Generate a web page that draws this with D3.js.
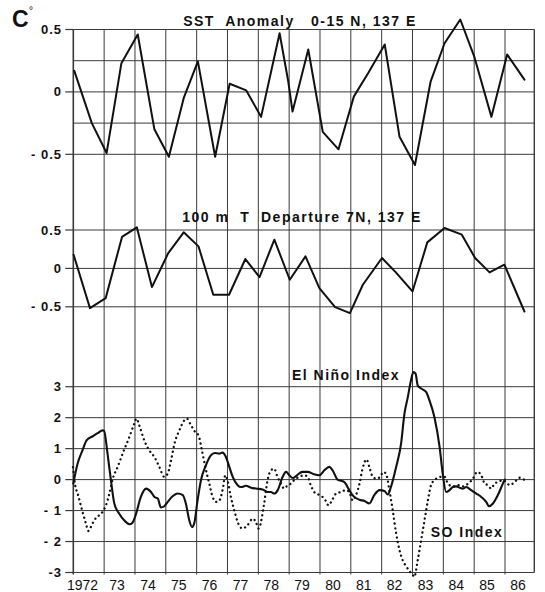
<!DOCTYPE html>
<html>
<head>
<meta charset="utf-8">
<script src="https://cdn.jsdelivr.net/npm/d3@7"></script>
<style>
  body { margin: 0; background: #fff; }
  svg { display: block; }
  text { font-family: "Liberation Sans", Arial, Helvetica, sans-serif; fill: #111; }
</style>
</head>
<body>
<svg id="chart" width="545" height="592"></svg>
<script>
// ---------- DATA ----------
const gridYears = [1972,1973,1974,1975,1976,1977,1978,1979,1980,1981,1982,1983,1984,1985,1986];
const yearLabels = ["1972","73","74","75","76","77","78","79","80","81","82","83","84","85","86"];

const topTicks = [0.5, 0, -0.5];
const topTickLabels = ["0.5", "0", "- 0.5"];
const topGrid = [0.5, 0.25, 0, -0.25, -0.5];
const midTicks = [0.5, 0, -0.5];
const midTickLabels = ["0.5", "0", "- 0.5"];
const botTicks = [3, 2, 1, 0, -1, -2, -3];
const botTickLabels = ["3", "2", "1", "0", "- 1", "- 2", "-3"];

// SST Anomaly 0-15N, 137E
const sstYears = [1972.03,1972.6,1973.08,1973.56,1974.09,1974.63,1975.1,1975.58,1976.04,1976.6,1977.07,1977.61,1978.09,1978.69,1978.97,1979.11,1979.62,1980.09,1980.6,1981.1,1981.56,1982.1,1982.58,1983.08,1983.59,1984.04,1984.55,1985.0,1985.56,1986.07,1986.63];
const sstValues = [0.17,-0.25,-0.49,0.23,0.46,-0.30,-0.52,-0.05,0.245,-0.52,0.065,0.012,-0.20,0.47,0.085,-0.157,0.34,-0.32,-0.46,-0.036,0.15,0.38,-0.36,-0.586,0.085,0.39,0.58,0.285,-0.2,0.30,0.098];

// 100 m T Departure 7N, 137E
const depYears = [1972.01,1972.54,1973.05,1973.58,1974.06,1974.55,1975.08,1975.58,1976.06,1976.54,1977.05,1977.58,1978.04,1978.52,1979.02,1979.53,1979.98,1980.49,1980.97,1981.39,1982.01,1982.46,1983.0,1983.48,1984.04,1984.6,1985.03,1985.5,1985.98,1986.63];
const depValues = [0.178,-0.517,-0.387,0.41,0.535,-0.243,0.2,0.47,0.287,-0.343,-0.343,0.122,-0.113,0.374,-0.148,0.157,-0.257,-0.504,-0.583,-0.213,0.135,-0.052,-0.3,0.339,0.526,0.439,0.135,-0.052,0.048,-0.561];

// El Nino Index
const ninoYears = [1972.0,1972.14,1972.3,1972.43,1972.63,1972.79,1972.95,1973.0,1973.11,1973.22,1973.33,1973.49,1973.65,1973.82,1973.92,1974.03,1974.19,1974.36,1974.52,1974.63,1974.74,1974.84,1974.95,1975.06,1975.22,1975.38,1975.55,1975.65,1975.76,1975.85,1975.92,1976.03,1976.14,1976.3,1976.46,1976.59,1976.73,1976.84,1976.95,1977.06,1977.17,1977.33,1977.44,1977.6,1977.76,1977.92,1978.14,1978.3,1978.41,1978.52,1978.63,1978.79,1978.9,1979.0,1979.12,1979.25,1979.43,1979.6,1979.81,1979.98,1980.14,1980.3,1980.41,1980.57,1980.79,1980.95,1981.06,1981.28,1981.44,1981.6,1981.76,1981.93,1982.09,1982.2,1982.3,1982.47,1982.63,1982.74,1982.85,1982.95,1983.03,1983.1,1983.17,1983.28,1983.44,1983.55,1983.71,1983.88,1983.98,1984.09,1984.2,1984.31,1984.42,1984.53,1984.63,1984.74,1984.9,1985.07,1985.23,1985.39,1985.48,1985.61,1985.77,1985.93,1985.99];
const ninoValues = [-0.13,0.52,0.95,1.27,1.4,1.5,1.59,1.57,0.84,-0.02,-0.77,-1.1,-1.31,-1.44,-1.39,-1.12,-0.56,-0.29,-0.4,-0.56,-0.61,-0.9,-0.86,-0.72,-0.54,-0.45,-0.5,-0.77,-1.31,-1.53,-1.42,-0.67,-0.02,0.46,0.78,0.86,0.84,0.87,0.73,0.41,0.09,-0.18,-0.24,-0.2,-0.26,-0.29,-0.32,-0.4,-0.4,-0.45,-0.34,0.09,0.25,0.15,0.05,0.14,0.25,0.25,0.17,0.14,0.3,0.41,0.3,0.0,-0.08,-0.34,-0.51,-0.65,-0.69,-0.77,-0.5,-0.34,-0.37,-0.48,-0.24,0.41,1.16,2.13,2.67,3.2,3.47,3.42,3.04,2.94,2.83,2.56,2.02,1.05,0.19,-0.4,-0.34,-0.24,-0.22,-0.26,-0.29,-0.24,-0.34,-0.45,-0.56,-0.72,-0.86,-0.77,-0.5,-0.13,0.0];

// SO Index
const soiYears = [1971.99,1972.06,1972.14,1972.3,1972.41,1972.49,1972.57,1972.68,1972.84,1972.95,1973.06,1973.17,1973.28,1973.44,1973.6,1973.82,1973.98,1974.05,1974.14,1974.3,1974.46,1974.63,1974.79,1974.95,1975.06,1975.17,1975.28,1975.44,1975.6,1975.68,1975.82,1975.95,1976.06,1976.17,1976.28,1976.41,1976.52,1976.63,1976.74,1976.85,1976.93,1977.0,1977.11,1977.22,1977.35,1977.49,1977.65,1977.82,1977.92,1978.01,1978.12,1978.19,1978.3,1978.41,1978.52,1978.6,1978.71,1978.84,1978.95,1979.06,1979.16,1979.33,1979.49,1979.6,1979.7,1979.81,1979.98,1980.14,1980.28,1980.39,1980.52,1980.68,1980.84,1980.95,1981.06,1981.17,1981.28,1981.38,1981.51,1981.6,1981.71,1981.84,1981.95,1982.06,1982.16,1982.25,1982.36,1982.47,1982.58,1982.68,1982.81,1982.92,1982.98,1983.06,1983.17,1983.28,1983.39,1983.5,1983.6,1983.77,1983.93,1984.04,1984.15,1984.31,1984.47,1984.63,1984.8,1984.96,1985.1,1985.23,1985.34,1985.45,1985.55,1985.66,1985.77,1985.93,1986.04,1986.15,1986.31,1986.48,1986.64];
const soiValues = [0.4,-0.18,-0.45,-1.04,-1.42,-1.66,-1.53,-1.31,-1.15,-1.04,-0.83,-0.45,0.03,0.41,0.84,1.38,1.81,1.97,1.75,1.27,0.95,0.73,0.41,0.09,0.19,0.62,1.16,1.59,1.91,1.97,1.75,1.54,1.43,0.95,0.41,-0.13,-0.56,-0.72,-0.67,-0.29,0.14,-0.02,-0.56,-0.99,-1.42,-1.58,-1.47,-1.26,-1.37,-1.58,-1.2,-0.77,-0.02,0.3,0.35,0.14,-0.08,-0.29,-0.18,-0.13,-0.02,0.09,0.14,0.09,-0.18,-0.4,-0.5,-0.61,-0.83,-0.67,-0.45,-0.4,-0.34,-0.4,-0.67,-0.5,-0.13,0.35,0.65,0.41,0.09,0.03,0.09,0.25,0.14,-0.34,-0.99,-1.74,-2.28,-2.6,-2.82,-2.98,-3.03,-3.14,-2.6,-1.96,-1.31,-0.67,-0.18,0.03,0.09,0.09,-0.13,-0.22,-0.18,-0.22,-0.13,0.03,0.25,0.14,-0.13,-0.18,-0.29,-0.13,-0.08,-0.02,-0.08,-0.18,-0.08,0.06,-0.02];

// ---------- CHART ----------
const svg = d3.select("#chart");
const x = d3.scaleLinear().domain([1972, 1986]).range([73.3, 505]);
const xRight = x(1986.95);
const yTop = d3.scaleLinear().domain([-0.5, 0.5]).range([154.3, 29.5]);
const yMid = d3.scaleLinear().domain([-0.5, 0.5]).range([306.8, 230]);
const yBot = d3.scaleLinear().domain([-3, 3]).range([572.5, 386.7]);
const gridColor = "#3a3a3a";

// vertical grid lines
svg.append("g").selectAll("line").data(gridYears).join("line")
  .attr("x1", d => x(d)).attr("x2", d => x(d))
  .attr("y1", yTop(0.5)).attr("y2", yBot(-3) + 2)
  .attr("stroke", gridColor).attr("stroke-width", d => d === 1972 ? 1.6 : 1);
// right border
svg.append("line").attr("x1", xRight).attr("x2", xRight)
  .attr("y1", yTop(0.5)).attr("y2", yBot(-3))
  .attr("stroke", gridColor).attr("stroke-width", 1.4);

function hGrid(vals, scale, tickVals) {
  const g = svg.append("g");
  g.selectAll("line.g").data(vals).join("line").attr("class", "g")
    .attr("x1", x(1972)).attr("x2", xRight)
    .attr("y1", d => scale(d)).attr("y2", d => scale(d))
    .attr("stroke", gridColor).attr("stroke-width", 1);
  g.selectAll("line.t").data(tickVals).join("line").attr("class", "t")
    .attr("x1", x(1972) - 8).attr("x2", x(1972))
    .attr("y1", d => scale(d)).attr("y2", d => scale(d))
    .attr("stroke", gridColor).attr("stroke-width", 1.2);
}
hGrid(topGrid, yTop, topTicks);
hGrid(midTicks, yMid, midTicks);
hGrid(botTicks, yBot, botTicks);

function tickLabels(vals, labels, scale) {
  svg.append("g").selectAll("text").data(vals).join("text")
    .attr("x", 62).attr("y", d => scale(d) + 4.5)
    .attr("text-anchor", "end")
    .style("font-size", "13px").style("font-weight", "bold").style("letter-spacing", "1px")
    .text((d, i) => labels[i]);
}
tickLabels(topTicks, topTickLabels, yTop);
tickLabels(midTicks, midTickLabels, yMid);
tickLabels(botTicks, botTickLabels, yBot);

// year labels
svg.append("g").selectAll("text").data(gridYears).join("text")
  .attr("x", d => d === 1972 ? x(1972.3) : x(d + 0.42))
  .attr("y", 590)
  .attr("text-anchor", "middle")
  .style("font-size", "14px")
  .text((d, i) => yearLabels[i]);

// lines
function drawLine(xs, vs, scale, opts) {
  const data = xs.map((t, i) => [t, vs[i]]);
  const line = d3.line().x(d => x(d[0])).y(d => scale(d[1])).curve(opts.curve || d3.curveLinear);
  svg.append("path").datum(data)
    .attr("d", line).attr("fill", "none")
    .attr("stroke", "#111").attr("stroke-width", opts.width || 2)
    .attr("stroke-linejoin", "round").attr("stroke-linecap", "round")
    .attr("stroke-dasharray", opts.dash || null);
}
drawLine(sstYears, sstValues, yTop, { width: 2 });
drawLine(depYears, depValues, yMid, { width: 2 });
drawLine(soiYears, soiValues, yBot, { width: 2.3, dash: "0.1 4.6", curve: d3.curveMonotoneX });
drawLine(ninoYears, ninoValues, yBot, { width: 2.1, curve: d3.curveMonotoneX });

// titles
const title = (txt, xx, yy, size) => svg.append("text")
  .attr("x", xx).attr("y", yy).attr("text-anchor", "middle")
  .style("font-size", size + "px").style("font-weight", "bold").style("letter-spacing", "1.5px")
  .attr("xml:space", "preserve")
  .text(txt);
title("SST  Anomaly   0-15 N, 137 E", 300, 26, 14);
title("100 m  T  Departure 7N, 137 E", 302, 222, 14);
svg.append("text").attr("x", 346).attr("y", 380).attr("text-anchor", "middle")
  .style("font-size", "14px").style("font-weight", "bold").style("letter-spacing", "1.5px")
  .text("El Niño Index");
svg.append("text").attr("x", 467).attr("y", 537).attr("text-anchor", "middle")
  .style("font-size", "14px").style("font-weight", "bold").style("letter-spacing", "1.5px")
  .text("SO Index");

// unit label
svg.append("text").attr("x", 12).attr("y", 27)
  .style("font-size", "23px").style("font-weight", "bold").text("C");
svg.append("text").attr("x", 29).attr("y", 14)
  .style("font-size", "10px").text("°");
</script>
</body>
</html>
